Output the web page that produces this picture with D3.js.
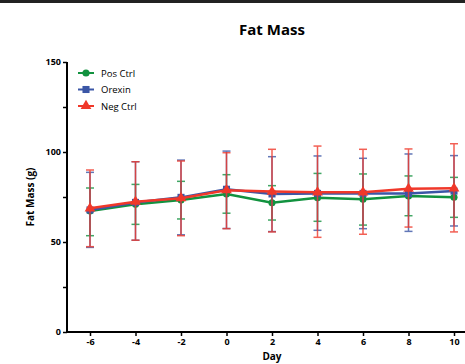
<!DOCTYPE html>
<html>
<head>
<meta charset="utf-8">
<script src="https://cdn.jsdelivr.net/npm/d3@7"></script>
<style>
body { margin: 0; background: #fff; }
svg { display: block; font-family: "Open Sans", "Liberation Sans", sans-serif; }
</style>
</head>
<body>
<div id="chart"></div>
<script>
// data
var days = [-6, -4, -2, 0, 2, 4, 6, 8, 10];
var seriesNames = ["Pos Ctrl", "Orexin", "Neg Ctrl"];
var posMean = [67.2, 71, 73.3, 76.7, 71.8, 74.6, 73.7, 75.6, 74.8];
var posLo = [53.5, 59.8, 62.8, 66, 62.2, 61.5, 59.4, 64.6, 63.7];
var posHi = [80, 82, 83.7, 87.4, 81.3, 88.1, 87.8, 86.7, 85.9];
var orxMean = [67.8, 72, 74.8, 79.3, 76.7, 77, 77, 77, 78.3];
var orxLo = [47, 51, 54, 57.5, 55.8, 56.5, 57.4, 55.9, 58.9];
var orxHi = [88.7, 94.6, 95.5, 100.5, 97.4, 97.8, 96.5, 98.9, 98];
var negMean = [68.7, 72.4, 74.3, 78.8, 78, 77.6, 77.6, 79.6, 79.8];
var negLo = [47.4, 51, 53.5, 57.4, 55.6, 52.6, 54.3, 58.3, 55.6];
var negHi = [90, 94.6, 95, 99.6, 101.5, 103.3, 101.5, 101.7, 104.6];
var yTicks = [0, 50, 100, 150];
var yMinor = [25, 75, 125];

var width = 465, height = 364;
var colors = ["#12923f", "#3b56a6", "#f0382a"];

var svg = d3.select("#chart").append("svg")
    .attr("width", width)
    .attr("height", height);

// top bar
svg.append("rect").attr("x", 0).attr("y", 0).attr("width", width).attr("height", 3).attr("fill", "#222");

var x = d3.scaleLinear().domain([-6, 10]).range([90, 454]);
var y = d3.scaleLinear().domain([0, 150]).range([332, 62]);

// title
svg.append("text").attr("x", 272).attr("y", 35)
    .attr("text-anchor", "middle").attr("font-size", 15).attr("font-weight", "bold")
    .text("Fat Mass");

// axes
var yAxis = svg.append("g").attr("transform", "translate(67,0)")
    .call(d3.axisLeft(y).tickValues(yTicks).tickSize(4).tickPadding(2).tickFormat(String));
svg.append("g").attr("transform", "translate(67,0)")
    .call(d3.axisLeft(y).tickValues(yMinor).tickSize(4).tickFormat(""))
    .select(".domain").remove();
var xAxis = svg.append("g").attr("transform", "translate(0,332)")
    .call(d3.axisBottom(x).tickValues(days).tickSize(4).tickPadding(3).tickFormat(String));
xAxis.select(".domain").attr("d", "M67,0H465");
yAxis.select(".domain").attr("d", "M0,62V332");
svg.selectAll(".domain").attr("stroke", "#000").attr("stroke-width", 2);
svg.selectAll(".tick line").attr("stroke", "#000").attr("stroke-width", 1.5);
svg.selectAll(".tick text").attr("font-size", 9).attr("font-weight", "bold")
    .attr("font-family", "'Open Sans', 'Liberation Sans', sans-serif").attr("fill", "#000");

svg.append("text").attr("x", 272).attr("y", 360)
    .attr("text-anchor", "middle").attr("font-size", 10).attr("font-weight", "bold")
    .text("Day");
svg.append("text").attr("transform", "translate(34,197)rotate(-90)")
    .attr("text-anchor", "middle").attr("font-size", 10).attr("font-weight", "bold")
    .text("Fat Mass (g)");

var series = [
    {name: seriesNames[0], mean: posMean, lo: posLo, hi: posHi, sym: d3.symbolCircle, size: 40},
    {name: seriesNames[1], mean: orxMean, lo: orxLo, hi: orxHi, sym: d3.symbolSquare, size: 50},
    {name: seriesNames[2], mean: negMean, lo: negLo, hi: negHi, sym: d3.symbolTriangle, size: 50}
];

var line = d3.line().x(function(d){ return x(d[0]); }).y(function(d){ return y(d[1]); });

series.forEach(function(s, i){
    var g = svg.append("g");
    var c = colors[i];
    // error bars
    days.forEach(function(d, j){
        var eb = g.append("g").attr("stroke", c).attr("stroke-width", 1.5).attr("opacity", 0.8);
        eb.append("line").attr("x1", x(d)).attr("x2", x(d)).attr("y1", y(s.lo[j])).attr("y2", y(s.hi[j]));
        eb.append("line").attr("x1", x(d) - 4).attr("x2", x(d) + 4).attr("y1", y(s.lo[j])).attr("y2", y(s.lo[j]));
        eb.append("line").attr("x1", x(d) - 4).attr("x2", x(d) + 4).attr("y1", y(s.hi[j])).attr("y2", y(s.hi[j]));
    });
    g.append("path")
        .attr("d", line(days.map(function(d, j){ return [d, s.mean[j]]; })))
        .attr("fill", "none").attr("stroke", c).attr("stroke-width", 2.5);
    g.selectAll("path.m").data(days).enter().append("path")
        .attr("class", "m")
        .attr("transform", function(d, j){ return "translate(" + x(d) + "," + y(s.mean[j]) + ")"; })
        .attr("d", d3.symbol().type(s.sym).size(s.size))
        .attr("fill", c);

    // legend
    var ly = 73 + i * 16.5;
    var lg = svg.append("g");
    lg.append("line").attr("x1", 78).attr("x2", 94).attr("y1", ly).attr("y2", ly)
        .attr("stroke", c).attr("stroke-width", 2);
    lg.append("path").attr("transform", "translate(86," + ly + ")")
        .attr("d", d3.symbol().type(s.sym).size(s.size)).attr("fill", c);
    lg.append("text").attr("x", 101).attr("y", ly + 3.5)
        .attr("font-size", 9.5).text(s.name);
});
</script>
</body>
</html>
